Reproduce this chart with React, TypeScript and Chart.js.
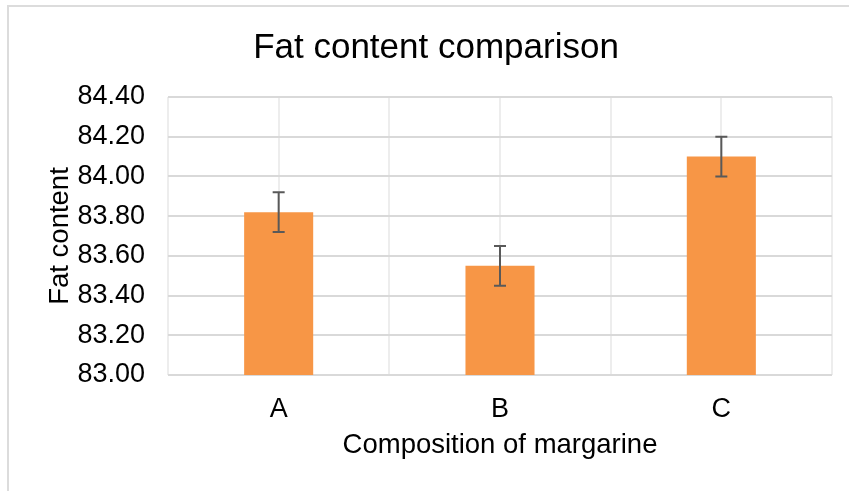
import React, { useEffect, useRef } from "react";
import { Chart, registerables } from "chart.js";

Chart.register(...registerables);

const categories = ["A", "B", "C"];
const fatValues = [83.82, 83.55, 84.1];
const errorValues = [0.1, 0.1, 0.1];
const yMin = 83.0;
const yMax = 84.4;
const yStep = 0.2;
const chartTitle = "Fat content comparison";
const xTitle = "Composition of margarine";
const yTitle = "Fat content";
const gridSlots = ["", "", "", "", "", "", ""];

const FONT = "'Liberation Sans', Arial, sans-serif";

const errorBarPlugin = {
  id: "errorBars",
  afterDatasetsDraw(chart: any) {
    const ctx = chart.ctx;
    const meta = chart.getDatasetMeta(0);
    const ys = chart.scales.y;
    ctx.save();
    ctx.strokeStyle = "#595959";
    ctx.lineWidth = 2;
    meta.data.forEach((bar: any, i: number) => {
      const v = fatValues[i];
      const e = errorValues[i];
      const x = bar.x;
      const top = ys.getPixelForValue(v + e);
      const bot = ys.getPixelForValue(v - e);
      ctx.beginPath();
      ctx.moveTo(x, top);
      ctx.lineTo(x, bot);
      ctx.moveTo(x - 6, top);
      ctx.lineTo(x + 6, top);
      ctx.moveTo(x - 6, bot);
      ctx.lineTo(x + 6, bot);
      ctx.stroke();
    });
    ctx.restore();
  },
};

export default function App() {
  const ref = useRef<HTMLCanvasElement | null>(null);
  useEffect(() => {
    if (!ref.current) return;
    const chart = new Chart(ref.current, {
      type: "bar",
      data: {
        labels: categories,
        datasets: [
          {
            data: fatValues,
            backgroundColor: "#F79646",
            borderWidth: 0,
            categoryPercentage: 1,
            barPercentage: 0.312,
          },
        ],
      },
      options: {
        animation: false,
        responsive: false,
        devicePixelRatio: 1,
        layout: { padding: { left: 40, right: 17, top: 10, bottom: 25 } },
        plugins: {
          legend: { display: false },
          tooltip: { enabled: false },
          title: {
            display: true,
            text: chartTitle,
            color: "#000000",
            font: { family: FONT, size: 35, weight: "normal" },
            padding: { top: 17, bottom: 28 },
          },
        },
        scales: {
          x: {
            type: "category",
            position: "bottom",
            grid: { display: false },
            border: { display: false },
            ticks: {
              color: "#000000",
              font: { family: FONT, size: 27 },
              padding: 10,
            },
            title: {
              display: true,
              text: xTitle,
              color: "#000000",
              font: { family: FONT, size: 27.5 },
              padding: { top: 4, bottom: 4 },
            },
            afterFit(scale: any) {
              scale.height = 91;
            },
          },
          x2: {
            type: "category",
            labels: gridSlots,
            position: "top",
            offset: false,
            grid: { display: true, offset: false, color: "#ededed", lineWidth: 2, drawTicks: false },
            border: { display: false },
            ticks: { display: false },
            afterFit(scale: any) {
              scale.height = 0;
            },
          },
          y: {
            min: yMin,
            max: yMax,
            grid: { color: "#d9d9d9", lineWidth: 2, drawTicks: false },
            border: { display: false },
            ticks: {
              stepSize: yStep,
              color: "#000000",
              font: { family: FONT, size: 27 },
              padding: 23,
              callback: (v: any) => Number(v).toFixed(2),
            },
            title: {
              display: true,
              text: yTitle,
              color: "#000000",
              font: { family: FONT, size: 27.5 },
              padding: { top: 4, bottom: 4 },
            },
            afterFit(scale: any) {
              scale.width = 128;
            },
          },
        },
      } as any,
      plugins: [errorBarPlugin],
    });
    return () => chart.destroy();
  }, []);

  return (
    <div
      style={{
        position: "absolute",
        left: 0,
        top: 0,
        width: 849,
        height: 491,
        overflow: "hidden",
        background: "#ffffff",
      }}
    >
      <div
        style={{
          position: "absolute",
          left: 7,
          top: 5,
          width: 900,
          height: 600,
          border: "2px solid #dcdcdc",
          boxSizing: "border-box",
        }}
      />
      <canvas
        ref={ref}
        width={849}
        height={491}
        style={{ position: "absolute", left: 0, top: 0, width: 849, height: 491 }}
      />
    </div>
  );
}
